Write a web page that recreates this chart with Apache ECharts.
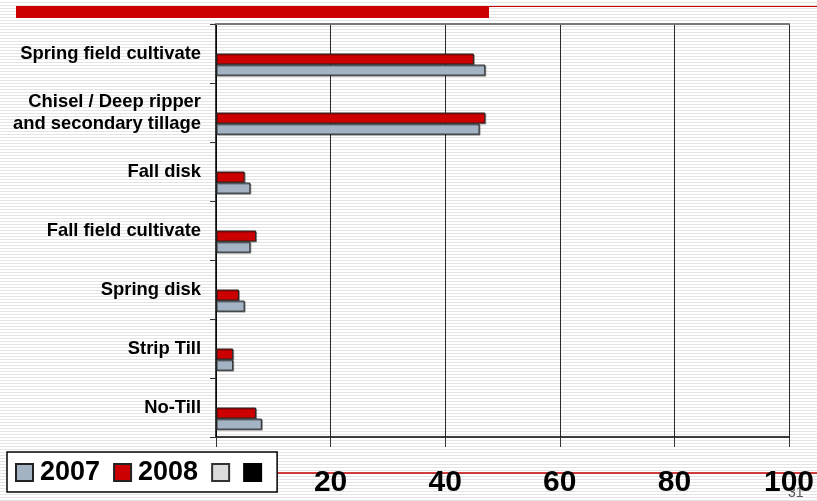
<!DOCTYPE html>
<html>
<head>
<meta charset="utf-8">
<script src="https://cdn.jsdelivr.net/npm/echarts@6/dist/echarts.min.js"></script>
<style>
  html, body { margin: 0; padding: 0; }
  body {
    width: 817px; height: 501px;
    background: repeating-linear-gradient(to bottom, #ffffff 0px, #ffffff 2px, #e4e4e4 2px, #e4e4e4 3px);
  }
  #chart { width: 817px; height: 501px; }
</style>
</head>
<body>
<div id="chart"></div>
<script>
// Categories listed bottom-to-top (ECharts category axis grows upward)
const categories = [
  'No-Till',
  'Strip Till',
  'Spring disk',
  'Fall field cultivate',
  'Fall disk',
  'Chisel / Deep ripper\nand secondary tillage',
  'Spring field cultivate'
];
const values2007 = [8, 3, 5, 6, 6, 46, 47];
const values2008 = [7, 3, 4, 7, 5, 47, 45];
const seriesNames = ['2007', '2008', ' ', '  '];
const xTicks = { min: 0, max: 100, interval: 20 };

const FONT = "'Liberation Sans', Arial, sans-serif";
const barShadow = { shadowColor: 'rgba(0,0,0,0.35)', shadowOffsetX: 1, shadowOffsetY: 1, shadowBlur: 0 };

const chart = echarts.init(document.getElementById('chart'), null, { renderer: 'canvas' });
chart.setOption({
  backgroundColor: 'transparent',
  animation: false,
  textStyle: { fontFamily: FONT },
  grid: { left: 216, right: 27, top: 24, bottom: 64, containLabel: false },
  xAxis: [
    {
      type: 'value', position: 'bottom',
      min: xTicks.min, max: xTicks.max, interval: xTicks.interval,
      axisLine: { show: true, lineStyle: { color: '#000', width: 1.5 } },
      axisTick: { show: true, length: 10, lineStyle: { color: '#333', width: 1 } },
      axisLabel: { fontSize: 30, fontWeight: 'bold', color: '#000', margin: 31, fontFamily: FONT },
      splitLine: { show: true, lineStyle: { color: '#2a2a2a', width: 1 } }
    },
    {
      type: 'value', position: 'top',
      min: xTicks.min, max: xTicks.max, interval: xTicks.interval,
      axisLine: { show: true, lineStyle: { color: '#777', width: 2 } },
      axisTick: { show: false }, axisLabel: { show: false }, splitLine: { show: false }
    }
  ],
  yAxis: {
    type: 'category', data: categories,
    axisLine: { show: true, lineStyle: { color: '#000', width: 1.5 } },
    axisTick: { show: true, length: 6, lineStyle: { color: '#333' } },
    axisLabel: { fontSize: 18.4, fontWeight: 'bold', color: '#000', margin: 15, lineHeight: 22, fontFamily: FONT, align: 'right' },
    splitLine: { show: false }
  },
  legend: {
    left: 7, top: 452,
    orient: 'horizontal',
    data: seriesNames,
    icon: 'rect', itemWidth: 17, itemHeight: 17, itemGap: 13,
    padding: [7, 15, 6, 8],
    backgroundColor: '#fff', borderColor: '#000', borderWidth: 1.5,
    textStyle: { fontSize: 27, fontWeight: 'bold', color: '#000', fontFamily: FONT, padding: [0, 0, 0, 2] },
    formatter: function (name) { return name.trim() ? name : ''; },
    z: 10
  },
  graphic: [
    { type: 'rect', shape: { x: 16, y: 6, width: 473, height: 12 }, style: { fill: '#cc0000' } },
    { type: 'line', shape: { x1: 489, y1: 6.5, x2: 817, y2: 6.5 }, style: { stroke: '#cc0000', lineWidth: 1 } },
    { type: 'line', z: -1, shape: { x1: 270, y1: 473, x2: 817, y2: 473 }, style: { stroke: '#c00000', lineWidth: 1.5 } },
    { type: 'text', z: -1, left: 788, top: 486, style: { text: '31', fontSize: 14, fill: '#555', fontFamily: FONT } }
  ],
  // Series listed top-to-bottom within each category band (two empty series occupy the upper slots)
  series: [
    { name: seriesNames[3], type: 'bar', data: [], barGap: '0%', barCategoryGap: '25%',
      itemStyle: { color: '#000', borderColor: '#000', borderWidth: 1 } },
    { name: seriesNames[2], type: 'bar', data: [], barGap: '0%', barCategoryGap: '25%',
      itemStyle: { color: '#dcdcdc', borderColor: '#333', borderWidth: 1 } },
    { name: seriesNames[1], type: 'bar', data: values2008, barGap: '0%', barCategoryGap: '25%',
      itemStyle: Object.assign({ color: '#cc0000', borderColor: '#222', borderWidth: 1 }, barShadow) },
    { name: seriesNames[0], type: 'bar', data: values2007, barGap: '0%', barCategoryGap: '25%',
      itemStyle: Object.assign({ color: '#a3b3c4', borderColor: '#222', borderWidth: 1 }, barShadow) }
  ]
});
</script>
</body>
</html>
